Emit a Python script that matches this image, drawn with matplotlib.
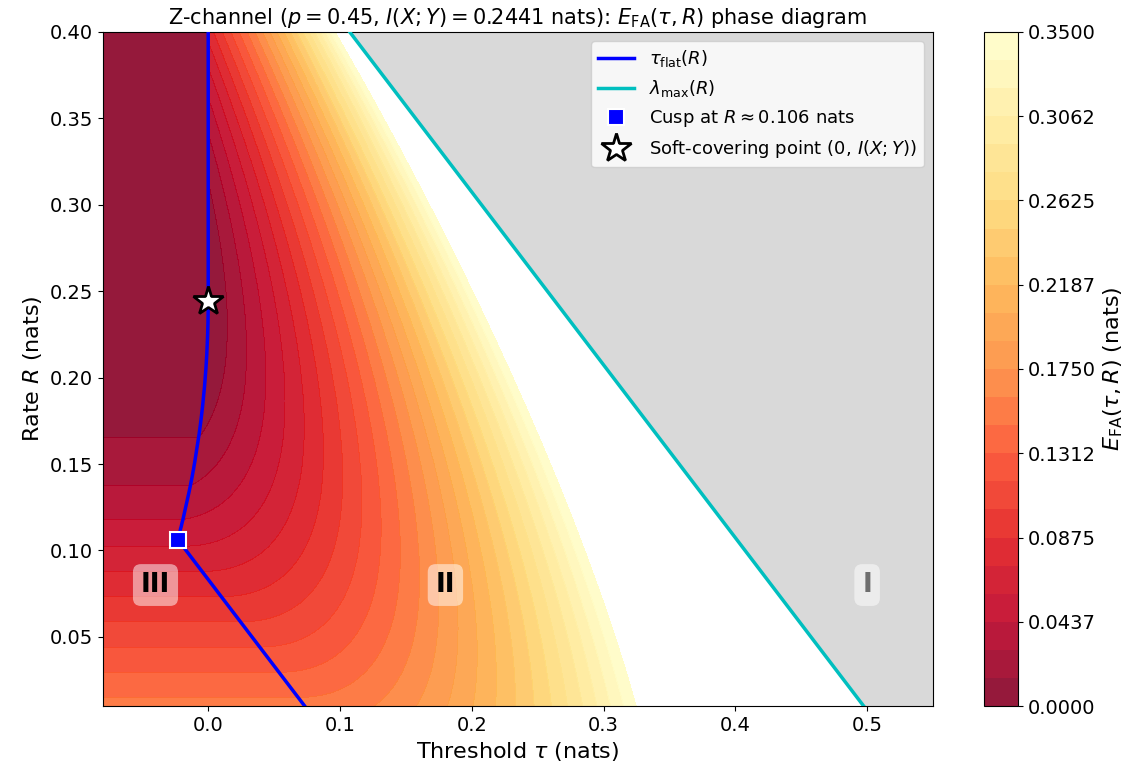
import numpy as np
import matplotlib
matplotlib.use("Agg")
import matplotlib.pyplot as plt

# ---- channel / chart parameters ----
P_FLIP = 0.45            # Z-channel: P(Y=0 | X=1)
PX1 = 0.5                # input distribution P(X=1)
TAU_RANGE = (-0.08, 0.55)
R_RANGE = (0.01, 0.40)
LEVELS = np.linspace(0.0, 0.35, 25)
CBAR_TICKS = [0.0, 0.04375, 0.0875, 0.13125, 0.175, 0.21875, 0.2625, 0.30625, 0.35]
CBAR_TICK_LABELS = ["0.0000", "0.0437", "0.0875", "0.1312", "0.1750",
                    "0.2187", "0.2625", "0.3062", "0.3500"]
REGION_LABELS = ["III", "II", "I"]
REGION_TAU = [-0.04, 0.18, 0.50]
REGION_R = [0.08, 0.08, 0.08]

# ---- derived channel quantities ----
PY1 = PX1 * (1 - P_FLIP)                      # P(Y=1)
i00 = np.log(1.0 / (1 - PY1))
i10 = np.log(P_FLIP / (1 - PY1))
i11 = np.log((1 - P_FLIP) / PY1)


def xlogx(v):
    v = np.asarray(v, float)
    out = np.zeros_like(v)
    m = v > 0
    out[m] = v[m] * np.log(v[m])
    return out


# joint types with Q_X = P_X and Q(0,1)=0, parameter a = Q(1,1)
a = np.linspace(1e-7, PX1, 6001)
D_y = xlogx(a) - a * np.log(PY1) + xlogx(1 - a) - (1 - a) * np.log(1 - PY1)
H_x = -(xlogx(1 - PX1) + xlogx(PX1))
H_y = -(xlogx(a) + xlogx(1 - a))
H_xy = -(xlogx(1 - PX1) + xlogx(a) + xlogx(PX1 - a))
I_q = H_x + H_y - H_xy
E_i = (1 - PX1) * i00 + a * i11 + (PX1 - a) * i10

I_XY = float(np.interp(PY1, a, I_q))

tau = np.linspace(*TAU_RANGE, 500)
Rs = np.linspace(*R_RANGE, 400)
E = np.full((Rs.size, tau.size), np.nan)
tau_flat = np.zeros(Rs.size)
lam_max = np.zeros(Rs.size)
for k, R in enumerate(Rs):
    cost = D_y + np.maximum(I_q - R, 0.0)
    g = E_i + np.maximum(R - I_q, 0.0) - R
    order = np.argsort(-g)
    gs = g[order]
    cmin = np.minimum.accumulate(cost[order])
    cnt = np.searchsorted(-gs, -tau, side="right")
    ok = cnt > 0
    E[k, ok] = cmin[cnt[ok] - 1]
    j = np.argmin(cost)
    tau_flat[k] = g[j]
    lam_max[k] = gs[0]

# cusp
a0 = np.argmin(D_y + I_q)
R_cusp = I_q[a0]
tau_cusp = E_i[a0] - R_cusp

# ---- plot ----
fig = plt.figure(figsize=(11.42, 7.78), dpi=100)
ax = fig.add_axes([0.090, 0.0925, 0.727, 0.8665])
cax = fig.add_axes([0.8617, 0.0925, 0.0298, 0.8665])

TT, RR = np.meshgrid(tau, Rs)
cf = ax.contourf(TT, RR, E, levels=LEVELS, cmap="YlOrRd_r", alpha=0.9)
ax.fill_betweenx(Rs, lam_max, TAU_RANGE[1] + 0.05, color="0.85", zorder=1.5, lw=0)

ax.plot(tau_flat, Rs, color="blue", lw=2.5, label=r"$\tau_{\mathrm{flat}}(R)$", zorder=3)
ax.plot(lam_max, Rs, color="c", lw=2.5, label=r"$\lambda_{\max}(R)$", zorder=3)
ax.plot([tau_cusp], [R_cusp], "s", color="blue", ms=11, mec="white", mew=1.5,
        ls="none", label=rf"Cusp at $R \approx {R_cusp:.3f}$ nats", zorder=5)
ax.plot([0.0], [I_XY], "*", ms=22, mfc="white", mec="black", mew=2, ls="none",
        label=r"Soft-covering point $(0,\, I(X;Y))$", zorder=6)

for lab, tx, ry in zip(REGION_LABELS, REGION_TAU, REGION_R):
    col = "#6e6e6e" if lab == "I" else "black"
    ax.text(tx, ry, lab, fontsize=19, fontweight="bold", color=col,
            ha="center", va="center", zorder=4,
            bbox=dict(boxstyle="round,pad=0.3", fc="white", ec="none", alpha=0.5))

ax.set_xlim(*TAU_RANGE)
ax.set_ylim(*R_RANGE)
ax.set_xlabel(r"Threshold $\tau$ (nats)", fontsize=16)
ax.set_ylabel(r"Rate $R$ (nats)", fontsize=16)
ax.set_title(rf"Z-channel ($p = {P_FLIP}$, $I(X;Y) = {I_XY:.4f}$ nats): "
             r"$E_{\mathrm{FA}}(\tau, R)$ phase diagram", fontsize=15)
ax.tick_params(labelsize=14)
ax.legend(loc="upper right", fontsize=13)

cb = fig.colorbar(cf, cax=cax)
cb.set_ticks(CBAR_TICKS)
cb.set_ticklabels(CBAR_TICK_LABELS)
cb.ax.tick_params(labelsize=14)
cb.set_label(r"$E_{\mathrm{FA}}(\tau, R)$ (nats)", fontsize=16)

fig.savefig("out.png", dpi=100)
